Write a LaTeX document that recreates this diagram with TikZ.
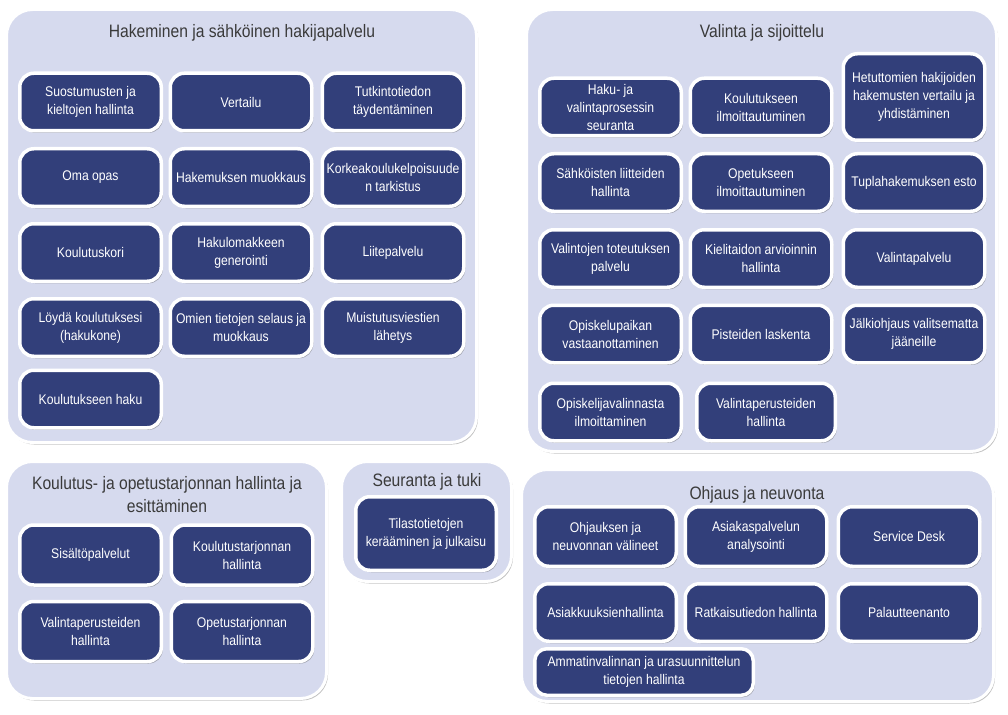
\documentclass[tikz,border=0pt]{standalone}
\usepackage{fontspec}
\setmainfont[FakeStretch=0.87]{Liberation Sans}
\usepackage{xcolor}
\usetikzlibrary{shadows}

\definecolor{boxnavy}{HTML}{323F7A}
\definecolor{grouplav}{HTML}{D6DAEE}
\definecolor{titlegray}{HTML}{3A3A3A}

\tikzset{
  group/.style={draw=white, line width=3pt, fill=grouplav, rounded corners=26pt,
    drop shadow={shadow xshift=1.5pt, shadow yshift=-2pt, opacity=0.35, fill=black!70}},
  service/.style={draw=white, line width=3.5pt, fill=boxnavy, rounded corners=14pt,
    text=white, align=center, inner sep=1pt, font=\fontsize{14}{18}\selectfont,
    minimum width=141.5pt, minimum height=57.5pt,
    drop shadow={shadow xshift=1.5pt, shadow yshift=-2pt, opacity=0.4, fill=black!70}},
  grouptitle/.style={text=titlegray, align=center, font=\fontsize{18}{23}\selectfont}
}

\begin{document}
\begin{tikzpicture}[x=1pt, y=-1pt]
\useasboundingbox (0,0) rectangle (1008,714);

\node[group, minimum width=470pt, minimum height=433pt] at (241.5,226) (hak) {};
\node[group, minimum width=470pt, minimum height=442pt] at (761.5,230.5) (val) {};
\node[group, minimum width=320pt, minimum height=237pt] at (166.5,580) (kou) {};
\node[group, minimum width=170pt, minimum height=120pt] at (426.5,521.5) (seu) {};
\node[group, minimum width=472pt, minimum height=232pt] at (757.5,585.5) (ohj) {};

\node[grouptitle, anchor=base] at (242,38) (hakt) {Hakeminen ja sähköinen hakijapalvelu};
\node[grouptitle, anchor=base] at (762,38) (valt) {Valinta ja sijoittelu};
\node[grouptitle] at (167,495) (kout) {Koulutus- ja opetustarjonnan hallinta ja\\esittäminen};
\node[grouptitle, anchor=base] at (427,486) (seut) {Seuranta ja tuki};
\node[grouptitle, anchor=base] at (757,499) (ohjt) {Ohjaus ja neuvonta};

% Hakeminen ja sähköinen hakijapalvelu
\node[service] at (90.5,102) (h1) {Suostumusten ja\\kieltojen hallinta};
\node[service] at (241,102) (h2) {Vertailu};
\node[service] at (393,102) (h3) {Tutkintotiedon\\täydentäminen};
\node[service] at (90.5,177.5) (h4) {Oma opas};
\node[service] at (241,177.5) (h5) {Hakemuksen muokkaus};
\node[service] at (393,177.5) (h6) {Korkeakoulukelpoisuude\\n tarkistus};
\node[service] at (90.5,252.5) (h7) {Koulutuskori};
\node[service] at (241,252.5) (h8) {Hakulomakkeen\\generointi};
\node[service] at (393,252.5) (h9) {Liitepalvelu};
\node[service] at (90.5,327.5) (h10) {Löydä koulutuksesi\\(hakukone)};
\node[service] at (241,327.5) (h11) {Omien tietojen selaus ja\\muokkaus};
\node[service] at (393,327.5) (h12) {Muistutusviestien\\lähetys};
\node[service] at (90.5,399) (h13) {Koulutukseen haku};

% Valinta ja sijoittelu
\node[service] at (610.5,107) (v1) {Haku- ja\\valintaprosessin\\seuranta};
\node[service] at (761,107) (v2) {Koulutukseen\\ilmoittautuminen};
\node[service, minimum height=86.5pt] at (914,97) (v3) {Hetuttomien hakijoiden\\hakemusten vertailu ja\\yhdistäminen};
\node[service] at (610.5,182.5) (v4) {Sähköisten liitteiden\\hallinta};
\node[service] at (761,182.5) (v5) {Opetukseen\\ilmoittautuminen};
\node[service] at (914,182.5) (v6) {Tuplahakemuksen esto};
\node[service] at (610.5,258.5) (v7) {Valintojen toteutuksen\\palvelu};
\node[service] at (761,258.5) (v8) {Kielitaidon arvioinnin\\hallinta};
\node[service] at (914,258.5) (v9) {Valintapalvelu};
\node[service] at (610.5,334) (v10) {Opiskelupaikan\\vastaanottaminen};
\node[service] at (761,334) (v11) {Pisteiden laskenta};
\node[service] at (914,334) (v12) {Jälkiohjaus valitsematta\\jääneille};
\node[service] at (610.5,412) (v13) {Opiskelijavalinnasta\\ilmoittaminen};
\node[service, minimum width=138.5pt] at (766,412) (v14) {Valintaperusteiden\\hallinta};

% Koulutus- ja opetustarjonnan hallinta
\node[service, minimum height=60pt] at (90.5,555) (k1) {Sisältöpalvelut};
\node[service, minimum height=60pt] at (242,555) (k2) {Koulutustarjonnan\\hallinta};
\node[service, minimum height=60pt] at (90.5,631.5) (k3) {Valintaperusteiden\\hallinta};
\node[service, minimum height=60pt] at (242,631.5) (k4) {Opetustarjonnan\\hallinta};

% Seuranta ja tuki
\node[service, minimum width=140.5pt, minimum height=73.5pt] at (426,533.5) (s1) {Tilastotietojen\\kerääminen ja julkaisu};

% Ohjaus ja neuvonta
\node[service, minimum height=59.5pt] at (605.5,536.5) (o1) {Ohjauksen ja\\neuvonnan välineet};
\node[service, minimum height=59.5pt] at (756,536.5) (o2) {Asiakaspalvelun\\analysointi};
\node[service, minimum height=59.5pt] at (909,536.5) (o3) {Service Desk};
\node[service] at (605.5,612.5) (o4) {Asiakkuuksienhallinta};
\node[service] at (756,612.5) (o5) {Ratkaisutiedon hallinta};
\node[service] at (909,612.5) (o6) {Palautteenanto};
\node[service, minimum width=218.5pt, minimum height=46.5pt, rounded corners=12pt] at (644,672) (o7) {Ammatinvalinnan ja urasuunnittelun\\tietojen hallinta};

\end{tikzpicture}
\end{document}
